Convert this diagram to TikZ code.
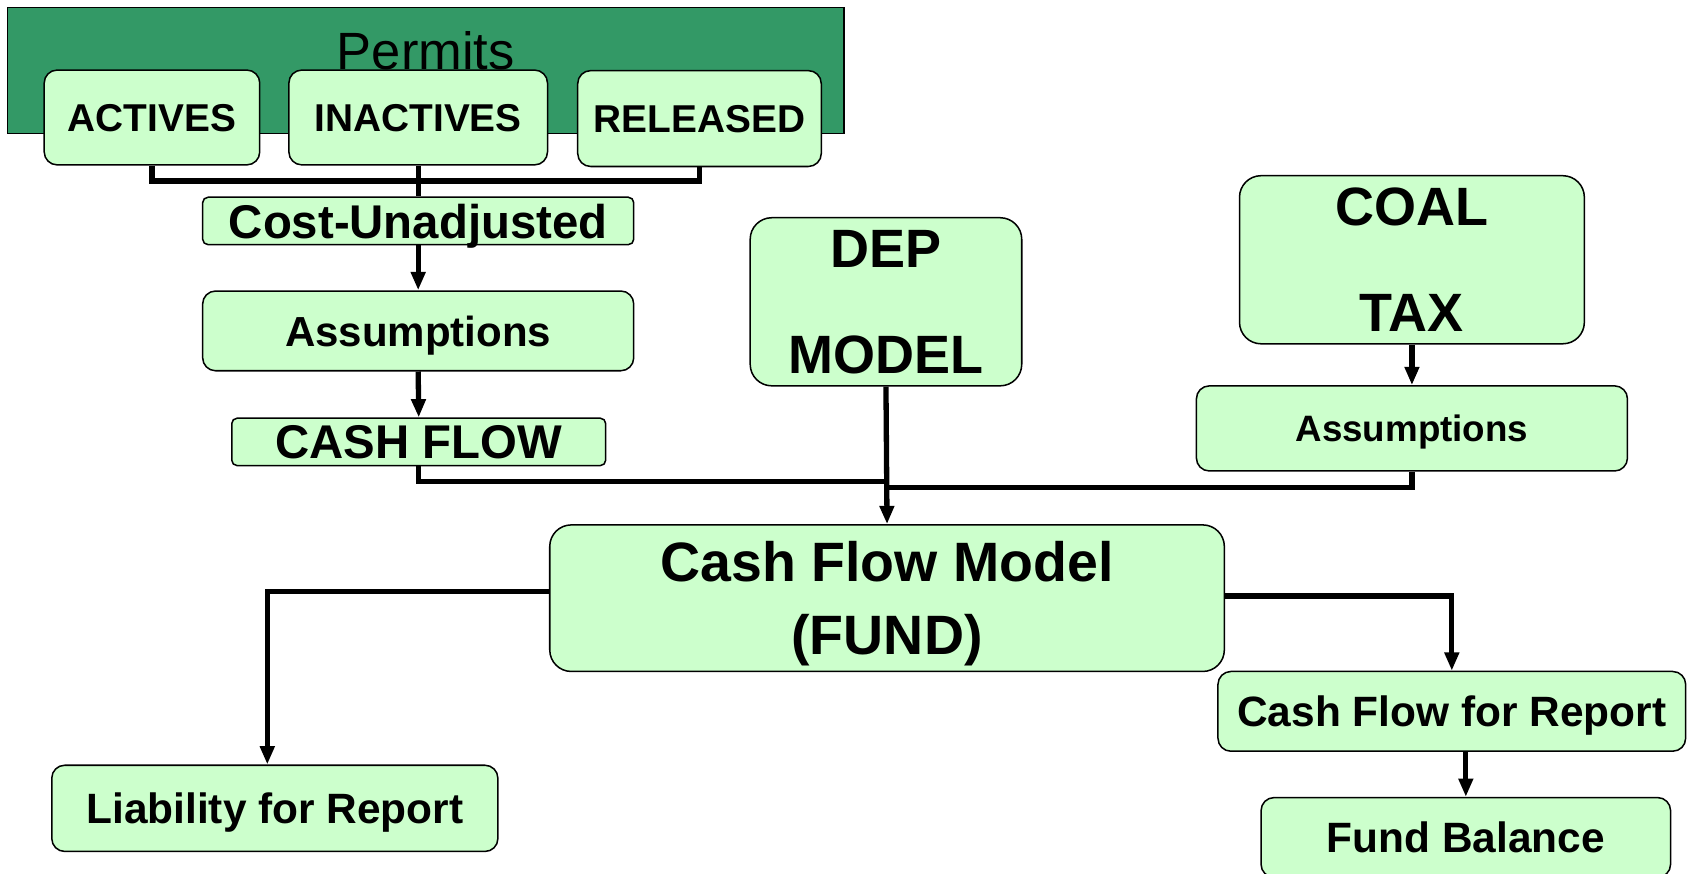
\documentclass[tikz,border=0pt]{standalone}
\usepackage{fontspec}
\setmainfont{Liberation Sans}
\usetikzlibrary{arrows.meta, positioning, calc}
\definecolor{permgreen}{HTML}{339966}
\definecolor{boxgreen}{HTML}{CCFFCC}

\begin{document}
\begin{tikzpicture}[x=0.02cm, y=-0.02cm,
  box/.style={draw, line width=0.8pt, fill=boxgreen, inner sep=0pt, align=center, text depth=0pt},
  slimbox/.style={box, rounded corners=0.1cm},
  midbox/.style={box, rounded corners=0.24cm},
  bigbox/.style={box, rounded corners=0.4cm},
  link/.style={line width=2.8pt},
  flow/.style={link, -{Triangle[length=0.34cm, width=0.26cm]}}]
  \useasboundingbox (0,0) rectangle (1568,810);
  % permits group
  \node[draw, line width=0.8pt, fill=permgreen, minimum width=15.52cm, minimum height=2.34cm] (permits) at (395,65.5) {};
  \node[font=\fontsize{27.7}{30}\selectfont] (permitslbl) at (395,47) {Permits};
  \node[midbox, minimum width=4cm, minimum height=1.76cm, font=\fontsize{20.5}{24}\selectfont\bfseries] (actives) at (141,109) {ACTIVES};
  \node[midbox, minimum width=4.8cm, minimum height=1.76cm, font=\fontsize{20.5}{24}\selectfont\bfseries] (inactives) at (388,109) {INACTIVES};
  \node[midbox, minimum width=4.52cm, minimum height=1.78cm, font=\fontsize{20.5}{24}\selectfont\bfseries] (released) at (649,110) {RELEASED};
  % left chain
  \node[slimbox, minimum width=8cm, minimum height=0.88cm, font=\fontsize{25}{28}\selectfont\bfseries] (cost) at (388,205) {Cost-Unadjusted};
  \node[midbox, minimum width=8cm, minimum height=1.48cm, font=\fontsize{22.2}{26}\selectfont\bfseries] (assumpL) at (388,307) {Assumptions};
  \node[slimbox, minimum width=6.94cm, minimum height=0.88cm, font=\fontsize{25}{28}\selectfont\bfseries] (cashflow) at (388.5,410) {CASH FLOW};
  % dep and coal tax
  \node[bigbox, minimum width=5.04cm, minimum height=3.12cm, font=\fontsize{28.5}{55.8}\selectfont\bfseries] (dep) at (822,280) {DEP\\MODEL};
  \node[bigbox, minimum width=6.4cm, minimum height=3.12cm, font=\fontsize{28.5}{55.8}\selectfont\bfseries] (coal) at (1310,241) {COAL\\TAX};
  \node[midbox, minimum width=8cm, minimum height=1.58cm, font=\fontsize{19.4}{23}\selectfont\bfseries] (assumpR) at (1310,397.5) {Assumptions};
  % model and outputs
  \node[bigbox, minimum width=12.52cm, minimum height=2.72cm, font=\fontsize{29.3}{38.7}\selectfont\bfseries] (model) at (823,555) {Cash Flow Model\\(FUND)};
  \node[midbox, minimum width=8.28cm, minimum height=1.6cm, font=\fontsize{22.4}{26}\selectfont\bfseries] (liability) at (255,750) {Liability for Report};
  \node[midbox, minimum width=8.68cm, minimum height=1.48cm, font=\fontsize{22.4}{26}\selectfont\bfseries] (cfreport) at (1347,660) {Cash Flow for Report};
  \node[midbox, minimum width=7.6cm, minimum height=1.48cm, font=\fontsize{22.4}{26}\selectfont\bfseries] (fund) at (1360,777) {Fund Balance};
  % connectors
  \coordinate (permbus) at (388,168);
  \coordinate (joinL) at (822,447);
  \coordinate (joinR) at (822,452);
  \draw[link] (actives.south) |- (permbus) -| (released.south);
  \draw[link] (inactives.south) -- (cost.north);
  \draw[flow] (cost.south) -- (assumpL.north);
  \draw[flow] (assumpL.south) -- (cashflow.north);
  \draw[link] (cashflow.south) |- (joinL);
  \draw[flow] (coal.south) -- (assumpR.north);
  \draw[link] (assumpR.south) |- (joinR);
  \draw[flow] (dep.south) -- (model.north);
  \draw[flow] ([yshift=0.12cm]model.west) -| ([xshift=-0.14cm]liability.north);
  \draw[flow] ([yshift=0.04cm]model.east) -| (cfreport.north);
  \draw[flow] (fund.north |- cfreport.south) -- (fund.north);
\end{tikzpicture}
\end{document}
